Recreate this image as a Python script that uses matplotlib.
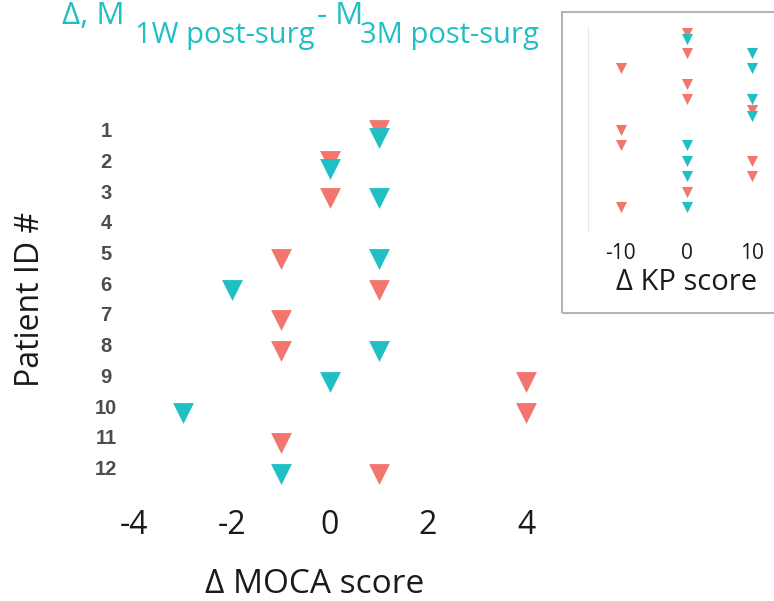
import numpy as np
import matplotlib
matplotlib.use('Agg')
import matplotlib.pyplot as plt
import matplotlib.transforms as mtransforms
from matplotlib.patches import Rectangle

plt.rcParams['axes.unicode_minus'] = False

W, H = 774, 601
RED = '#F3766E'
TEAL = '#1FBFC3'
FONT = 'Open Sans'

patients = list(range(1, 13))
# delta MOCA score per patient (nan = no point)
moca_red = [1, 0, 0, np.nan, -1, 1, -1, -1, 4, 4, -1, 1]
moca_teal = [1, 0, 1, np.nan, 1, -2, np.nan, 1, 0, -3, np.nan, -1]
# delta KP score per patient (inset)
kp_red = [0, 0, -10, 0, 0, 10, -10, -10, 10, 10, 0, -10]
kp_teal = [0, 10, 10, np.nan, 10, 10, np.nan, 0, 0, 0, np.nan, 0]

moca_ticks = [-4, -2, 0, 2, 4]
kp_ticks = [-10, 0, 10]


def px_axes(fig, left, top, right, bottom):
    # pixel box -> figure fraction
    return fig.add_axes([left / W, 1 - bottom / H, (right - left) / W, (bottom - top) / H])


def draw_points(ax, red, teal, size, dodge_red, dodge_teal):
    y = np.array(patients, dtype=float)
    red = np.array(red, dtype=float)
    teal = np.array(teal, dtype=float)
    same = red == teal
    ax.scatter(red, y + np.where(same, dodge_red, 0), marker='v', s=size,
               color=RED, linewidths=0, zorder=2)
    ax.scatter(teal, y + np.where(same, dodge_teal, 0), marker='v', s=size,
               color=TEAL, linewidths=0, zorder=3)


fig = plt.figure(figsize=(W / 100, H / 100), dpi=100)

# main panel
ax = px_axes(fig, 124.2, 117.7, 545.6, 504.7)
draw_points(ax, moca_red, moca_teal, 225, -0.19, 0.06)
ax.set_xlim(-4.2, 4.4)
ax.set_ylim(13.0, 0.4)
for s in ax.spines.values():
    s.set_visible(False)
ax.set_xticks(moca_ticks)
ax.set_xticklabels([str(t) for t in moca_ticks], fontfamily=FONT, fontsize=23, color='#1a1a1a')
ax.set_yticks(patients)
ax.set_yticklabels([str(p) for p in patients], fontfamily='Liberation Sans',
                   fontweight='bold', fontsize=14.5, color='#4D4D4D', ha='center')
ax.tick_params(axis='x', length=0, pad=3)
ax.tick_params(axis='y', length=0, pad=13.1)
up = mtransforms.ScaledTranslation(0, 6.5 / 100, fig.dpi_scale_trans)
for lab in ax.get_yticklabels():
    lab.set_transform(lab.get_transform() + up)

ax.set_xlabel('Δ MOCA score', fontfamily=FONT, fontsize=24, color='#1a1a1a', va='baseline')
ax.xaxis.set_label_coords((315 - 124.2) / 421.4, (504.7 - 593) / 387.0)
ax.set_ylabel('Patient ID #', fontfamily=FONT, fontsize=23, color='#1a1a1a',
              rotation=90, rotation_mode='anchor', ha='center', va='baseline')
ax.yaxis.set_label_coords((39 - 124.2) / 421.4, (504.7 - 299) / 387.0)

# title pieces (top is cut off in the source, keep glyphs just inside)
big = dict(fontfamily=FONT, fontsize=22.5, color=TEAL, ha='left', va='baseline')
small = dict(fontfamily=FONT, fontsize=21, color=TEAL, ha='left', va='baseline')
fig.text(62 / W, 1 - 23.5 / H, 'Δ, M', **big)
fig.text(135 / W, 1 - 43 / H, '1W post-surg', **small)
fig.text(317 / W, 1 - 23.5 / H, '- M', **big)
fig.text(360 / W, 1 - 43 / H, '3M post-surg', **small)

# inset panel with grey frame
fig.add_artist(Rectangle((562 / W, 1 - 313 / H), (820 - 562) / W, 301 / H,
                         transform=fig.transFigure, fill=False,
                         edgecolor='#b5b5b5', linewidth=1.5, clip_on=False))
ins = px_axes(fig, 588, 27, 785, 230)
ins.patch.set_alpha(0)
draw_points(ins, kp_red, kp_teal, 64, -0.3, 0.06)
ins.set_xlim(-15, 15)
ins.set_ylim(13.49, 0.31)
for k in ['top', 'right', 'bottom']:
    ins.spines[k].set_visible(False)
ins.spines['left'].set_color('#e6e6e6')
ins.spines['left'].set_linewidth(0.8)
ins.set_yticks([])
ins.set_xticks(kp_ticks)
ins.set_xticklabels([str(t) for t in kp_ticks], fontfamily=FONT, fontsize=15, color='#1a1a1a')
ins.tick_params(axis='x', length=0, pad=9.5)
ins.set_xlabel('Δ KP score', fontfamily=FONT, fontsize=21, color='#1a1a1a', va='baseline')
ins.xaxis.set_label_coords((686.5 - 588) / 197.0, (230 - 290) / 203.0)

fig.savefig('out.png', dpi=100)
